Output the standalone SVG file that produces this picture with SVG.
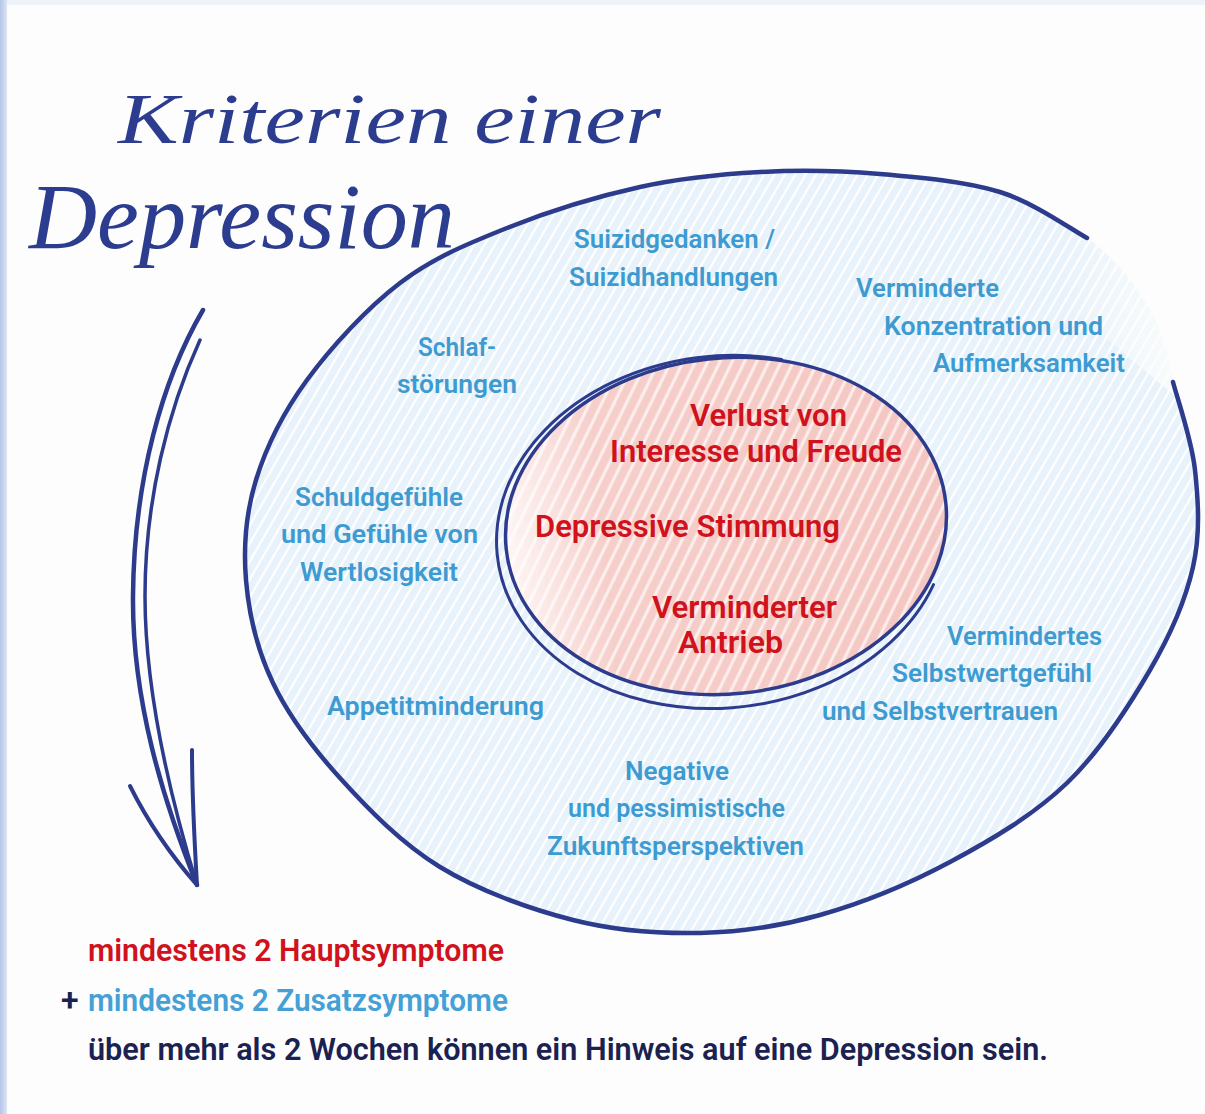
<svg xmlns="http://www.w3.org/2000/svg" width="1205" height="1114" viewBox="0 0 1205 1114">
  <style>
    .blue { font-family: Roboto, "Noto Sans", "Liberation Sans", sans-serif; font-weight: 600; font-size: 25.5px; fill: #3d9bd1; }
    .red { font-family: Roboto, "Noto Sans", "Liberation Sans", sans-serif; font-weight: 600; font-size: 32px; fill: #d0121c; }
    .legend { font-family: Roboto, "Noto Sans", "Liberation Sans", sans-serif; font-weight: 600; font-size: 32px; }
    .hand { font-family: "Liberation Serif", "DejaVu Serif", serif; font-style: italic; fill: #2c3d8f; }
    .pen { fill: none; stroke: #2c3b8c; stroke-linecap: round; stroke-linejoin: round; }
  </style>
  <defs>
    <pattern id="hatchBlue" patternUnits="userSpaceOnUse" width="9" height="9" patternTransform="rotate(30)">
      <rect width="9" height="9" fill="#e8f2fb"/>
      <line x1="2" y1="0" x2="2" y2="9" stroke="#ffffff" stroke-width="2.2"/>
    </pattern>
    <pattern id="hatchRed" patternUnits="userSpaceOnUse" width="11" height="11" patternTransform="rotate(32)">
      <rect width="11" height="11" fill="#f4c6c1"/>
      <line x1="3" y1="0" x2="3" y2="11" stroke="#ffffff" stroke-width="3" stroke-opacity="0.7"/>
    </pattern>
    <linearGradient id="redFade" x1="0" y1="0" x2="1" y2="0">
      <stop offset="0" stop-color="#ffffff" stop-opacity="0.85"/>
      <stop offset="0.22" stop-color="#ffffff" stop-opacity="0.15"/>
      <stop offset="1" stop-color="#ffffff" stop-opacity="0"/>
    </linearGradient>
    <linearGradient id="gapFade" x1="0" y1="0" x2="1" y2="0">
      <stop offset="0" stop-color="#fcfdfc" stop-opacity="0"/>
      <stop offset="1" stop-color="#fcfdfc" stop-opacity="0.9"/>
    </linearGradient>
    <linearGradient id="edgeL" x1="0" y1="0" x2="1" y2="0">
      <stop offset="0" stop-color="#b4c5e9"/>
      <stop offset="1" stop-color="#dde5f4"/>
    </linearGradient>
  </defs>

  <!-- background -->
  <rect x="0" y="0" width="1205" height="1114" fill="#fcfdfc"/>
  <rect x="0" y="0" width="1205" height="5" fill="#eef2f9"/>
  <rect x="0" y="0" width="7" height="1114" fill="url(#edgeL)"/>

  <!-- outer ring: additional symptoms area -->
  <g id="outer-ring">
    <path fill="url(#hatchBlue)" d="M1087,238 C1072.5,230.3 1034.5,202.7 1000,192 C965.5,181.3 920,177.3 880,174 C840,170.7 800,169.8 760,172 C720,174.2 682.2,177.7 640,187 C597.8,196.3 547,212 507,228 C467,244 433.3,257.7 400,283 C366.7,308.3 331,347.2 307,380 C283,412.8 266.2,446.7 256,480 C245.8,513.3 243.2,546.2 246,580 C248.8,613.8 257.3,650 273,683 C288.7,716 312.2,747.3 340,778 C367.8,808.7 401.2,843.3 440,867 C478.8,890.7 529.7,909 573,920 C616.3,931 658.8,933.8 700,933 C741.2,932.2 778.3,926.8 820,915 C861.7,903.2 908.8,884 950,862 C991.2,840 1033.7,815 1067,783 C1100.3,751 1129,706 1150,670 C1171,634 1185.5,600.3 1193,567 C1200.5,533.7 1198.3,500.8 1195,470 C1191.7,439.2 1176.7,396.7 1173,382 C1168,330 1135,272 1087,238 Z"/>
    <path fill="url(#gapFade)" d="M1060,230 L1180,230 L1180,400 L1060,300 Z"/>
    <path class="pen" stroke-width="4.5" d="M1087,238 C1072.5,230.3 1034.5,202.7 1000,192 C965.5,181.3 920,177.3 880,174 C840,170.7 800,169.8 760,172 C720,174.2 682.2,177.7 640,187 C597.8,196.3 547,212 507,228 C467,244 433.3,257.7 400,283 C366.7,308.3 331,347.2 307,380 C283,412.8 266.2,446.7 256,480 C245.8,513.3 243.2,546.2 246,580 C248.8,613.8 257.3,650 273,683 C288.7,716 312.2,747.3 340,778 C367.8,808.7 401.2,843.3 440,867 C478.8,890.7 529.7,909 573,920 C616.3,931 658.8,933.8 700,933 C741.2,932.2 778.3,926.8 820,915 C861.7,903.2 908.8,884 950,862 C991.2,840 1033.7,815 1067,783 C1100.3,751 1129,706 1150,670 C1171,634 1185.5,600.3 1193,567 C1200.5,533.7 1198.3,500.8 1195,470 C1191.7,439.2 1176.7,396.7 1173,382"/>
  </g>

  <!-- inner core: main symptoms -->
  <g id="inner-core">
    <ellipse cx="726" cy="526" rx="221" ry="168" transform="rotate(-6 726 526)" fill="url(#hatchRed)"/>
    <ellipse cx="726" cy="526" rx="221" ry="168" transform="rotate(-6 726 526)" fill="url(#redFade)"/>
    <ellipse class="pen" cx="726" cy="526" rx="221" ry="168" transform="rotate(-6 726 526)" stroke-width="3.5"/>
    <path class="pen" stroke-width="3" d="M933.5,584.6 A226 176 -6 1 1 781.6,359.4"/>
  </g>

  <!-- title -->
  <g id="title">
    <text class="hand" x="118" y="143" font-size="72" textLength="543" lengthAdjust="spacingAndGlyphs">Kriterien einer</text>
    <text class="hand" x="29" y="248" font-size="94" textLength="426" lengthAdjust="spacingAndGlyphs">Depression</text>
  </g>

  <!-- connectors -->
  <g id="connectors">
    <path class="pen" stroke-width="4.5" d="M203,310 C162,380 134,480 133,596 C132,700 163,800 197,885"/>
    <path class="pen" stroke-width="3.5" d="M200,340 C168,410 145,500 145,596 C145,690 168,790 197,885"/>
    <path class="pen" stroke-width="4" d="M130,786 C152,830 175,860 197,885"/>
    <path class="pen" stroke-width="4" d="M192,750 C192,800 195,850 197,885"/>
  </g>

  <!-- main symptoms (red) -->
  <g id="main-symptoms">
    <g id="verlust">
      <text class="red" x="690" y="426" textLength="157" lengthAdjust="spacingAndGlyphs">Verlust von</text>
      <text class="red" x="610" y="462" textLength="292" lengthAdjust="spacingAndGlyphs">Interesse und Freude</text>
    </g>
    <g id="stimmung">
      <text class="red" x="535" y="537" textLength="305" lengthAdjust="spacingAndGlyphs">Depressive Stimmung</text>
    </g>
    <g id="antrieb">
      <text class="red" x="652" y="618" textLength="185" lengthAdjust="spacingAndGlyphs">Verminderter</text>
      <text class="red" x="678" y="653" textLength="105" lengthAdjust="spacingAndGlyphs">Antrieb</text>
    </g>
  </g>

  <!-- additional symptoms (blue) -->
  <g id="additional-symptoms">
    <g id="suizid">
      <text class="blue" x="574" y="248" textLength="201" lengthAdjust="spacingAndGlyphs">Suizidgedanken /</text>
      <text class="blue" x="569" y="286" textLength="209" lengthAdjust="spacingAndGlyphs">Suizidhandlungen</text>
    </g>
    <g id="konzentration">
      <text class="blue" x="856" y="297" textLength="143" lengthAdjust="spacingAndGlyphs">Verminderte</text>
      <text class="blue" x="884" y="335" textLength="219" lengthAdjust="spacingAndGlyphs">Konzentration und</text>
      <text class="blue" x="933" y="372" textLength="192" lengthAdjust="spacingAndGlyphs">Aufmerksamkeit</text>
    </g>
    <g id="schlaf">
      <text class="blue" x="418" y="356" textLength="78" lengthAdjust="spacingAndGlyphs">Schlaf-</text>
      <text class="blue" x="397" y="393" textLength="120" lengthAdjust="spacingAndGlyphs">störungen</text>
    </g>
    <g id="schuld">
      <text class="blue" x="295" y="506" textLength="168" lengthAdjust="spacingAndGlyphs">Schuldgefühle</text>
      <text class="blue" x="281" y="543" textLength="197" lengthAdjust="spacingAndGlyphs">und Gefühle von</text>
      <text class="blue" x="300" y="581" textLength="158" lengthAdjust="spacingAndGlyphs">Wertlosigkeit</text>
    </g>
    <g id="appetit">
      <text class="blue" x="327" y="715" textLength="217" lengthAdjust="spacingAndGlyphs">Appetitminderung</text>
    </g>
    <g id="selbstwert">
      <text class="blue" x="947" y="645" textLength="155" lengthAdjust="spacingAndGlyphs">Vermindertes</text>
      <text class="blue" x="892" y="682" textLength="200" lengthAdjust="spacingAndGlyphs">Selbstwertgefühl</text>
      <text class="blue" x="822" y="720" textLength="236" lengthAdjust="spacingAndGlyphs">und Selbstvertrauen</text>
    </g>
    <g id="zukunft">
      <text class="blue" x="625" y="780" textLength="104" lengthAdjust="spacingAndGlyphs">Negative</text>
      <text class="blue" x="568" y="817" textLength="217" lengthAdjust="spacingAndGlyphs">und pessimistische</text>
      <text class="blue" x="547" y="855" textLength="257" lengthAdjust="spacingAndGlyphs">Zukunftsperspektiven</text>
    </g>
  </g>

  <!-- legend -->
  <g id="legend">
    <text class="legend" x="88" y="961" fill="#d0121c" textLength="416" lengthAdjust="spacingAndGlyphs">mindestens 2 Hauptsymptome</text>
    <text class="legend" x="61" y="1011" fill="#1b2150">+</text>
    <text class="legend" x="88" y="1011" fill="#45a0d6" textLength="420" lengthAdjust="spacingAndGlyphs">mindestens 2 Zusatzsymptome</text>
    <text class="legend" x="88" y="1060" fill="#1b2150" textLength="960" lengthAdjust="spacingAndGlyphs">über mehr als 2 Wochen können ein Hinweis auf eine Depression sein.</text>
  </g>
</svg>
